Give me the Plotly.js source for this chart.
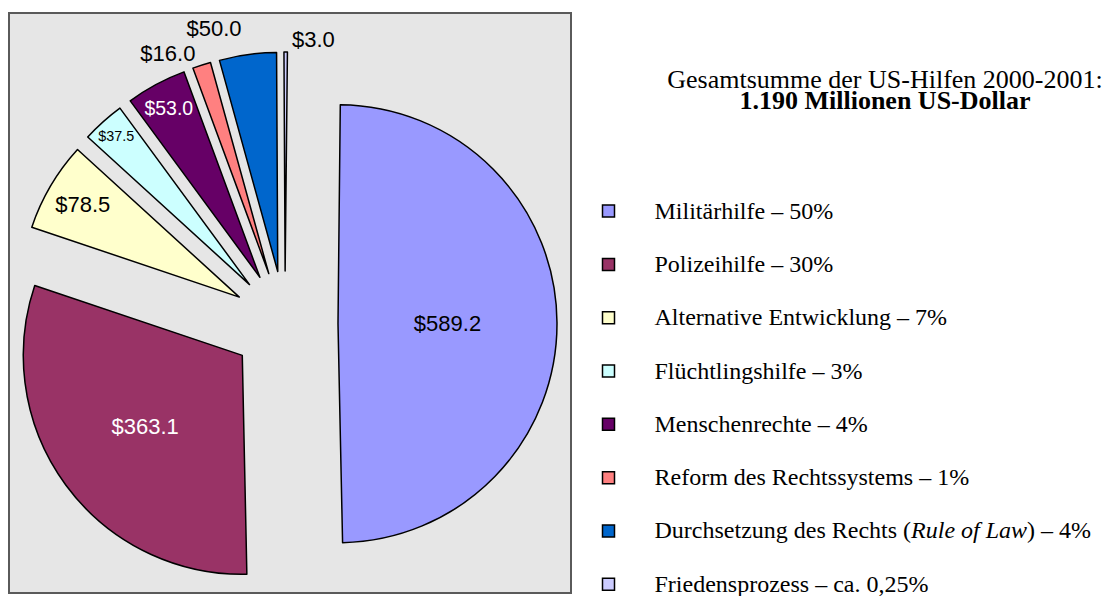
<!DOCTYPE html>
<html>
<head>
<meta charset="utf-8">
<script src="https://cdn.plot.ly/plotly-3.0.1.min.js"></script>
<style>
  html, body { margin: 0; padding: 0; background: #ffffff; }
  #chart { width: 1111px; height: 596px; }
  /* the reference has no leader lines next to the outside labels */
  #chart path.textline { stroke-opacity: 0 !important; stroke-width: 0 !important; }
</style>
</head>
<body>
<div id="chart"></div>
<script>
// ---- data ----
const categories = [
  'Militärhilfe',
  'Polizeihilfe',
  'Alternative Entwicklung',
  'Flüchtlingshilfe',
  'Menschenrechte',
  'Reform des Rechtssystems',
  'Durchsetzung des Rechts (<i>Rule of Law</i>)',
  'Friedensprozess'
];
const shares = ['50%', '30%', '7%', '3%', '4%', '1%', '4%', 'ca. 0,25%'];
const values = [589.2, 363.1, 78.5, 37.5, 53.0, 16.0, 50.0, 3.0];
const titleLines = ['Gesamtsumme der US-Hilfen 2000-2001:', '1.190 Millionen US-Dollar'];

// ---- styles ----
const sliceColors = ['#9999FF', '#993366', '#FFFFCC', '#CCFFFF', '#660066', '#FF8080', '#0066CC', '#CCCCFF'];
const labelColors = ['#000000', '#FFFFFF', '#000000', '#000000', '#FFFFFF', '#000000', '#000000', '#000000'];
const labelPositions = ['inside', 'inside', 'inside', 'inside', 'inside', 'outside', 'outside', 'outside'];

// legend labels: first entry one line, others preceded by a spacer line
const legendLabels = categories.map(function (c, i) {
  const txt = '<span style="font-size:24px">' + c + ' – ' + shares[i] + '</span>';
  return i === 0 ? txt : '\u00a0<br>' + txt;
});

const W = 1111, H = 596;

const trace = {
  type: 'pie',
  labels: legendLabels,
  values: values,
  sort: false,
  direction: 'clockwise',
  rotation: 0.6,
  pull: 0.242,
  marker: { colors: sliceColors, line: { color: '#000000', width: 1.5 } },
  texttemplate: '$%{value:.1f}',
  textposition: labelPositions,
  insidetextorientation: 'horizontal',
  textfont: { family: 'Liberation Sans, Arial, sans-serif', size: 22, color: labelColors },
  hoverinfo: 'skip',
  domain: { x: [5 / W, 565 / W], y: [0, 1 - 52 / H] }
};

const layout = {
  width: W,
  height: H,
  margin: { l: 0, r: 0, t: 0, b: 0, autoexpand: false },
  paper_bgcolor: '#ffffff',
  showlegend: true,
  font: { family: 'Liberation Serif, Times New Roman, serif', color: '#000000' },
  title: {
    text: '<span style="font-size:26px">' + titleLines[0] + '</span><br>' +
          '<span style="font-size:26px"><b>' + titleLines[1] + '</b></span>',
    x: 885 / W,
    xanchor: 'center',
    y: 1 - 88 / H,
    yanchor: 'top',
    font: { family: 'Liberation Serif, Times New Roman, serif', size: 16, color: '#000000' }
  },
  legend: {
    x: 562.5 / W,
    xanchor: 'left',
    y: 1 - 192 / H,
    yanchor: 'top',
    bgcolor: 'rgba(0,0,0,0)',
    borderwidth: 0,
    itemwidth: 82,
    valign: 'bottom',
    font: { family: 'Liberation Serif, Times New Roman, serif', size: 19.35, color: '#000000' },
    itemclick: false,
    itemdoubleclick: false
  },
  shapes: [{
    type: 'rect',
    xref: 'paper', yref: 'paper',
    x0: 9 / W, x1: 571 / W,
    y0: 1 - 593 / H, y1: 1 - 13 / H,
    fillcolor: '#E6E6E6',
    line: { color: '#5A5A5A', width: 2 },
    layer: 'below'
  }]
};

Plotly.newPlot('chart', [trace], layout, { displayModeBar: false, staticPlot: true });
</script>
</body>
</html>
